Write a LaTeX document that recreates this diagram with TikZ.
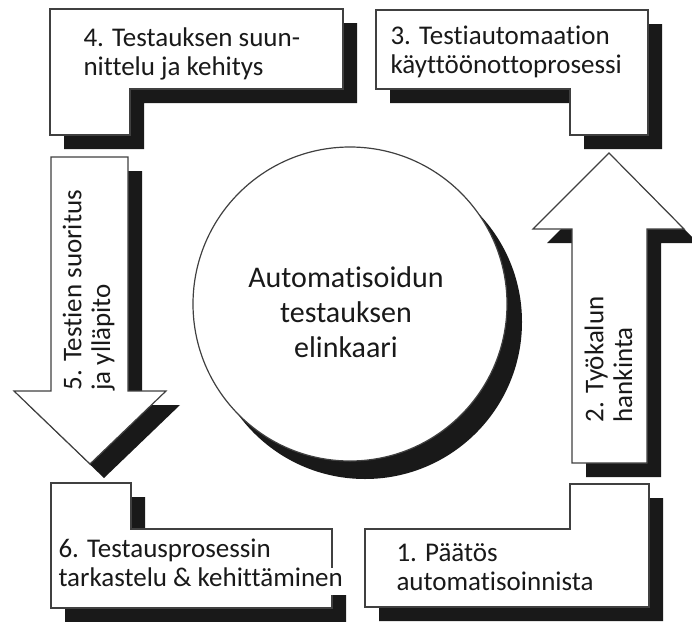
\documentclass[tikz,border=0pt]{standalone}
\usepackage{fontspec}
\setmainfont{Carlito}[Ligatures=NoCommon]

\tikzset{every picture/.style={line width=0.75pt}}
\tikzset{
	panel/.style={draw=black!75, fill=white, line width=0.9pt},
	shadowfill/.style={fill=black!90, shift={(14,14)}},
	boxtext/.style={inner sep=0pt, align=left, text=black!90, font=\fontsize{20.25}{21.4}\selectfont},
}

\begin{document}
\begin{tikzpicture}[x=0.75pt,y=0.75pt,yscale=-1,xscale=1]
	\useasboundingbox (0,0) rectangle (692,621);
	
	%Shadows
	\fill[shadowfill] (50,9) -- (343,9) -- (343,89) -- (130,89) -- (130,135) -- (50,135) -- cycle ;
	\fill[shadowfill] (376,10) -- (648,10) -- (648,135) -- (570,135) -- (570,89) -- (376,89) -- cycle ;
	\fill[shadowfill] (572,463) -- (572,229) -- (533,229) -- (609,153) -- (684,229) -- (647,229) -- (647,463) -- cycle ;
	\fill[shadowfill] (570,484) -- (649,484) -- (649,607) -- (365,607) -- (365,529) -- (570,529) -- cycle ;
	\fill[shadowfill] (51,483) -- (131,483) -- (131,529) -- (332,529) -- (332,608) -- (51,608) -- cycle ;
	\fill[shadowfill] (51,157) -- (128,157) -- (128,391) -- (166,391) -- (90,464) -- (14,391) -- (51,391) -- cycle ;
	\fill[fill=black!90] (365,322) circle [radius=157] ;
	%text background of box 6 over its shadow
	\fill[white] (333,540) rectangle (349,568) ;
	
	%Box 4
	\draw[panel] (50,9) -- (343,9) -- (343,89) -- (130,89) -- (130,135) -- (50,135) -- cycle ;
	%Box 3
	\draw[panel] (376,10) -- (648,10) -- (648,135) -- (570,135) -- (570,89) -- (376,89) -- cycle ;
	%Up arrow 2
	\draw[panel] (572,463) -- (572,229) -- (533,229) -- (609,153) -- (684,229) -- (647,229) -- (647,463) -- cycle ;
	%Box 1
	\draw[panel] (570,484) -- (649,484) -- (649,607) -- (365,607) -- (365,529) -- (570,529) -- cycle ;
	%Box 6
	\draw[panel] (51,483) -- (131,483) -- (131,529) -- (332,529) -- (332,608) -- (51,608) -- cycle ;
	\fill[white] (329,568) rectangle (349,595) ;
	%Down arrow 5
	\draw[panel] (51,157) -- (128,157) -- (128,391) -- (166,391) -- (90,464) -- (14,391) -- (51,391) -- cycle ;
	%Circle
	\draw[panel] (350,304) circle [radius=157] ;
	
	% Text Node (anchored at the baseline of the last line)
	\node[boxtext, anchor=base west] (lbl4) at (83,75) {4. Testauksen suun-\\nittelu ja kehitys};
	% Text Node
	\node[boxtext, anchor=base west] (lbl3) at (390,73) {3. Testiautomaation\\käyttöönottoprosessi};
	% Text Node
	\node[boxtext, anchor=base west, rotate=90] (lbl2) at (632,423) {2. Työkalun\\hankinta};
	% Text Node
	\node[boxtext, anchor=base west, rotate=90] (lbl5) at (110,391) {5. Testien suoritus\\ja ylläpito};
	% Text Node
	\node[boxtext, anchor=base west] (lbl6) at (58,586) {6. Testausprosessin\\tarkastelu \& kehittäminen};
	% Text Node
	\node[boxtext, anchor=base west] (lbl1) at (396,590) {1. Päätös\\automatisoinnista};
	% Text Node
	\node[boxtext, align=center, anchor=base, font=\fontsize{22.5}{26}\selectfont] (centre) at (346,357) {Automatisoidun\\testauksen\\elinkaari};
	
\end{tikzpicture}
\end{document}
